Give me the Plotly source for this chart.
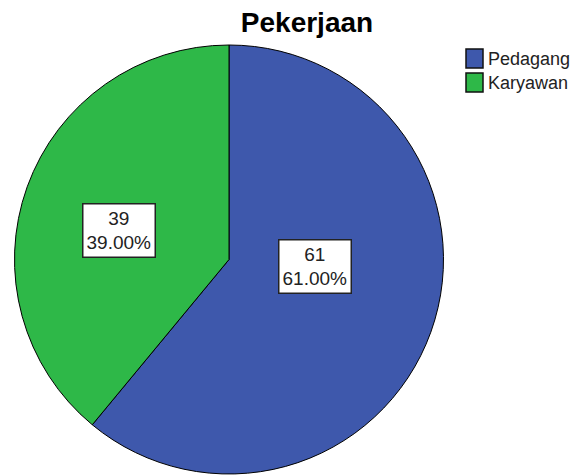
import plotly.graph_objects as go

categories = ["Pedagang", "Karyawan"]
counts = [61, 39]
colors = ["#3E58AC", "#2EB848"]
title_text = "Pekerjaan"

W, H = 584, 475
OFF = 8  # page body margin offset

def px(x):
    return (x - OFF) / W

def py(y):
    return 1 - (y - OFF) / H

total = sum(counts)
label_texts = [f"{c}<br>{c / total * 100:.2f}%" for c in counts]
label_pos = [(315, 266), (118.5, 231)]

fig = go.Figure(
    go.Pie(
        labels=categories,
        values=counts,
        sort=False,
        direction="clockwise",
        rotation=0,
        marker=dict(colors=colors, line=dict(color="black", width=1)),
        textinfo="none",
        hoverinfo="label+value+percent",
        showlegend=False,
        domain=dict(x=[px(14), px(444)], y=[py(474), py(45)]),
    )
)

annotations = []
for txt, (x, y) in zip(label_texts, label_pos):
    annotations.append(
        dict(
            text=txt, x=px(x), y=py(y), xref="paper", yref="paper",
            xanchor="center", yanchor="middle", showarrow=False,
            font=dict(family="Liberation Sans, Arial", size=19, color="#222"),
            bgcolor="white", bordercolor="#222", borderwidth=1.5, borderpad=3,
            align="center",
        )
    )

shapes = []
leg_x0, leg_y0, sq_w, sq_h, step = 466, 49, 17, 19, 24
for i, (cat, col) in enumerate(zip(categories, colors)):
    y0 = leg_y0 + i * step
    shapes.append(
        dict(type="rect", xref="paper", yref="paper",
             x0=px(leg_x0), x1=px(leg_x0 + sq_w), y0=py(y0 + sq_h), y1=py(y0),
             fillcolor=col, line=dict(color="#111", width=1.5))
    )
    annotations.append(
        dict(text=cat, x=px(leg_x0 + sq_w + 3), y=py(y0 + sq_h / 2),
             xref="paper", yref="paper", xanchor="left", yanchor="middle",
             showarrow=False,
             font=dict(family="Liberation Sans, Arial", size=18, color="#222"))
    )

fig.update_layout(
    width=W, height=H,
    margin=dict(l=0, r=0, t=0, b=0),
    paper_bgcolor="white", plot_bgcolor="white",
    title=dict(text=f"<b>{title_text}</b>", x=px(307), xanchor="center",
               y=py(22), yanchor="middle",
               font=dict(family="Liberation Sans, Arial", size=28, color="black")),
    annotations=annotations,
    shapes=shapes,
)

fig.write_html("out.html")
